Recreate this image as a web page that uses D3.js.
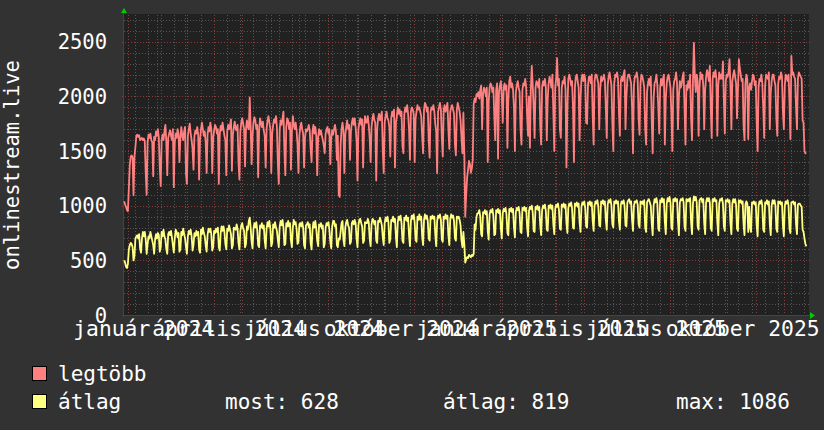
<!DOCTYPE html>
<html><head><meta charset="utf-8">
<script src="https://cdn.jsdelivr.net/npm/d3@7"></script>
<style>html,body{margin:0;padding:0;background:#323232;}svg{display:block}</style>
</head><body>
<svg id="chart" width="824" height="430"></svg>
<script>
// ---------- data (daily values, starting 2023-12-27) ----------
const firstDay = [2023, 11, 27];
const maxSeries = [
1040,1010,990,960,950,1160,1370, 1450,1460,1440,1095,1450,1535,1640, 1650,1630,1645,1600,1610,1620,1600,
1615,1590,1300,1100,1580,1650,1620, 1660,1600,1580,1270,1630,1600,1680, 1640,1700,1620,1350,1180,1600,1650,
1600,1680,1740,1580,1280,1620,1660, 1690,1640,1600,1700,1170,1580,1660, 1620,1700,1660,1400,1620,1720,1640,
1600,1680,1720,1290,1200,1640,1700, 1750,1660,1600,1520,1330,1640,1690, 1660,1720,1650,1240,1610,1700,1760,
1700,1640,1680,1580,1300,1650,1720, 1680,1760,1700,1300,1620,1690,1740,
1720,1660,1700,1200,1650,1730,1690, 1760,1700,1640,1600,1280,1680,1740, 1700,1740,1790,1320,1650,1720,1770,
1700,1690,1740,1400,1240,1680,1760, 1800,1750,1700,1360,1700,1780,1720, 1700,1990,1720,1380,1640,1760,1810,
1780,1700,1740,1260,1680,1800,1760, 1720,1770,1690,1640,1350,1700,1780, 1820,1760,1700,1300,1660,1740,1790,
1760,1820,1720,1390,1200,1700,1780, 1740,1800,1860,1500,1280,1720,1800, 1780,1700,1760,1330,1680,1820,1740,
1700,1760,1690,1560,1300,1640,1720,
1760,1700,1660,1350,1620,1700,1680, 1700,1740,1690,1520,1400,1680,1740, 1660,1720,1640,1280,1620,1700,1650,
1690,1640,1600,1550,1480,1660,1700, 1720,1660,1700,1380,1620,1690,1650, 1700,1740,1680,1420,1640,1100,1080,
1560,1700,1760,1690,1300,1650,1720, 1780,1700,1740,1420,1680,1760,1800, 1740,1800,1720,1600,1230,1700,1760,
1800,1740,1790,1350,1700,1820,1760, 1760,1820,1740,1620,1400,1720,1800, 1840,1780,1760,1230,1700,1800,1840,
1780,1820,1860,1500,1300,1760,1820,
1860,1800,1780,1720,1450,1800,1860, 1820,1880,1350,1760,1820,1900,1840, 1880,1820,1860,1550,1480,1840,1900,
1860,1920,1840,1700,1420,1860,1900, 1880,1840,1400,1800,1860,1920,1880, 1900,1860,1820,1640,1480,1880,1940,
1920,1860,1900,1600,1440,1860,1900, 1880,1920,1860,1750,1680,1300,1860, 1900,1940,1880,1620,1450,1880,1920,
1860,1900,1940,1700,1520,1860,1900, 1920,1880,1840,1560,1460,1880,1940, 1900,1860,1780,1620,1480,1850,1480,
900,1100,1260,1330,1410,1380,1300, 1340,1420,1930,1980,1950,2020,2000,
2040,1980,2060,2100,1700,2020,2080, 2060,2000,2080,1400,1950,2080,2120, 2100,2040,2080,1820,1600,2060,2120,
1430,2040,2100,2140,2000,1760,2080, 2120,2060,2100,1530,1980,2140,2180, 2080,2120,2060,1900,1500,2040,2100,
2140,2080,2040,1700,1560,2060,2120, 2100,2160,2080,1820,1640,2000,1530, 2060,2280,2100,1900,1620,2080,2140,
2120,2080,2160,1740,1560,2080,2140, 2100,2160,2080,1600,1980,2120,2180, 2140,2080,2200,1860,1500,2080,2160,
2350,2100,2160,1700,1620,2080,2140, 2120,2180,2060,1350,1900,2160,2200, 2160,2100,2140,1900,1400,2080,2180,
2200,2140,2080,1600,1980,2160,2200, 2140,2200,2160,1760,1750,2100,2180, 2180,2120,2200,1820,1560,2140,2200,
2200,2160,2120,1700,2060,2180,2140, 2160,2200,2140,1900,1620,2100,2180, 2220,2160,2100,1760,1500,2120,2200,
2180,2220,2160,1860,1640,2140,2180, 2140,2200,2240,1700,2000,2160,2200, 2200,2160,2120,1900,1480,2100,2180,
2180,2220,2160,1800,1650,2120,2200,
2180,2140,2080,1700,1560,2040,2120, 2160,2100,2180,1780,1480,1980,2120, 2140,2200,2100,1900,1660,2080,2160,
2100,2160,2200,1560,1980,2120,2180, 2200,2140,2080,1840,1500,2060,2140, 2160,2220,2120,1700,2000,2140,2080,
2120,2180,2220,1900,1560,2100,2060, 2140,2080,2200,1800,1600,2140,2490, 2180,2040,2200,2140,1640,2080,2220,
2160,2200,2100,1700,2060,2180,2240, 2200,2140,2280,1900,1620,2160,2220, 2180,2240,2160,1640,2100,2220,2160,
2200,2160,2320,1960,1660,2140,2200,
2180,2220,2340,2100,1700,2140,2200, 2240,2180,2120,1800,2060,2340,2260, 2200,2140,2160,1740,1600,2120,2200,
2160,1610,2080,2120,2060,2140,2200, 2180,2100,2140,1760,1500,2080,2160, 2140,2200,2120,1900,1620,2100,2200,
2180,2160,2220,1700,2040,2140,2200, 2200,2140,2100,1800,1640,2120,2180, 2160,2220,2180,1860,1700,2100,2200,
2180,2140,2200,1950,1610,2370,2200, 2220,2180,2160,1900,1700,2160,2220, 2200,2180,2160,1780,1760,1500,1480,
1480
];
const avgSeries = [
500,480,440,430,470,600,640, 660,650,620,500,540,700,720, 730,700,740,610,570,700,760,
720,760,690,560,650,720,700, 760,720,680,640,560,690,740, 700,750,730,580,620,760,720,
780,720,690,600,560,740,760, 730,770,710,640,570,700,780, 760,710,750,580,600,760,730,
790,740,700,620,560,720,770, 740,780,720,590,640,750,720, 770,730,760,600,570,780,740,
800,750,720,640,580,730,790, 760,790,740,590,620,770,750,
790,760,800,620,590,750,810, 770,810,760,650,600,790,770, 820,780,740,610,640,800,790,
780,830,790,660,600,770,820, 840,790,770,620,650,810,780, 860,890,800,670,610,790,840,
800,850,780,640,620,820,800, 840,790,820,680,610,790,850, 810,860,790,630,660,830,800,
850,800,770,690,620,810,860, 820,870,800,640,650,840,810, 860,810,840,680,620,800,870,
830,850,790,650,670,830,840,
810,850,800,640,610,820,830, 850,800,830,660,600,780,850, 800,860,790,680,630,830,810,
840,790,820,620,650,800,840, 820,850,780,670,610,810,860, 860,810,830,640,620,700,690,
760,840,860,690,630,800,850, 870,820,800,650,670,840,860, 830,870,840,700,620,820,870,
880,840,810,660,680,850,840, 840,880,850,700,630,830,880, 870,830,860,680,660,860,850,
890,860,820,710,640,840,890,
860,900,850,660,690,870,860, 900,850,880,720,620,850,900, 870,910,840,680,660,890,870,
910,860,890,730,630,860,910, 880,920,850,690,670,900,870, 920,870,900,720,640,870,920,
880,910,860,700,680,900,880, 910,880,900,740,630,860,910, 890,920,870,690,670,900,880,
920,880,910,730,640,880,920, 890,910,860,700,680,900,890, 900,870,820,680,620,760,650,
480,510,530,520,550,540,530, 550,540,560,830,780,900,930,
930,960,900,740,720,940,930, 960,920,950,770,690,920,960, 940,970,910,730,740,960,940,
970,930,960,790,700,930,970, 950,980,920,750,730,970,950, 980,940,970,800,710,940,980,
960,990,930,760,750,980,960, 990,950,980,810,720,950,990, 970,1000,940,770,760,990,970,
1000,960,990,820,730,960,1000, 980,1010,950,780,770,1000,980, 1010,970,1000,830,740,970,1010,
990,1020,960,790,780,1010,990, 1020,980,1010,840,750,980,1020, 1000,1030,970,800,790,1020,1000,
1030,990,1020,850,760,990,1030, 1010,1040,980,810,800,1030,1010, 1040,1000,1030,860,770,1000,1040,
1020,1050,990,820,810,1040,1020, 1050,1010,1040,870,780,1010,1050, 1030,1060,1000,830,800,1040,1020,
1050,1020,1040,860,780,1010,1040, 1020,1050,1000,820,810,1030,1050, 1060,1020,1040,870,770,1000,1040,
1030,1050,1010,830,800,1040,1020,
1040,1010,1050,800,760,1030,1050, 1060,1030,1000,840,730,1000,1060, 1030,1070,1020,790,770,1050,1030,
1070,1030,1060,850,740,1020,1070, 1040,1080,1030,800,780,1060,1040, 1070,1040,1060,860,730,1030,1060,
1050,1070,1030,810,770,1060,1040, 1060,1040,1070,850,740,1020,1086, 1050,1080,1030,810,780,1050,1060,
1070,1030,1060,840,740,1030,1070, 1040,1070,1030,800,770,1060,1040, 1070,1040,1050,850,730,1020,1060,
1050,1070,1020,810,770,1050,1040,
1060,1030,1050,840,740,1020,1060, 1030,1060,1010,790,770,1050,1030, 1050,1020,1040,830,730,1010,1040,
1020,760,990,800,760,1030,1020, 1040,1010,1030,820,720,1000,1040, 1020,1050,1000,780,760,1030,1020,
1050,1010,1040,830,730,1000,1050, 1020,1050,1000,790,760,1040,1020, 1040,1010,1030,820,720,1000,1040,
1020,1050,1000,790,750,1030,1030, 1040,1010,1030,830,740,1010,1020, 1020,1000,990,780,760,700,650,
628
];
const yTicks = [0, 500, 1000, 1500, 2000, 2500];
const monthNames = ["január","február","március","április","május","június","július","augusztus","szeptember","október","november","december"];
const seriesNames = ["legtöbb", "átlag"];
const seriesColors = ["#ff8080", "#ffff80"];
const statLabels = ["most: 628", "átlag: 819", "max: 1086"];
const yTitle = "onlinestream.live";

// ---------- layout ----------
const W = 824, H = 430;
const L = 124, R = 809, T = 15, B = 315;
const svg = d3.select("#chart");
const FONT = "'DejaVu Sans Mono', monospace";

const t0 = new Date(2023, 11, 27, 8), t1 = new Date(2025, 11, 27, 8);
const x = d3.scaleTime().domain([t0, t1]).range([L, R]);
const y = d3.scaleLinear().domain([0, 2745]).range([B, T]);

const base = new Date(firstDay[0], firstDay[1], firstDay[2], 12);
const dates = maxSeries.map((_, i) => d3.timeDay.offset(base, i));

svg.append("rect").attr("width", W).attr("height", H).attr("fill", "#323232");
svg.append("rect").attr("x", L - 1).attr("y", T - 1).attr("width", R - L + 1).attr("height", B - T + 1).attr("fill", "#212121");

const grid = svg.append("g").attr("shape-rendering", "crispEdges");
// minor horizontal
d3.range(0, 2745, 100).filter(v => v % 500 !== 0).forEach(v => {
  grid.append("line").attr("x1", L).attr("x2", R).attr("y1", Math.round(y(v)) + 0.5).attr("y2", Math.round(y(v)) + 0.5)
    .attr("stroke", "#555").attr("stroke-dasharray", "1,2");
});
// minor vertical: every other Monday
const ref = new Date(2024, 0, 8);
d3.timeMonday.range(t0, t1).filter(d => Math.round((d - ref) / 864e5) % 14 === 0).forEach(d => {
  const xx = Math.round(x(d)) + 0.5;
  grid.append("line").attr("x1", xx).attr("x2", xx).attr("y1", T).attr("y2", B)
    .attr("stroke", "#555").attr("stroke-dasharray", "1,2");
});
// major horizontal
yTicks.filter(v => v > 0).forEach(v => {
  const yy = Math.round(y(v)) + 0.5;
  grid.append("line").attr("x1", L - 2).attr("x2", R + 2).attr("y1", yy).attr("y2", yy)
    .attr("stroke", "#8a3c3c").attr("stroke-dasharray", "1,2");
});
// major vertical: month starts
d3.timeMonth.range(t0, t1).forEach(d => {
  const xx = Math.round(x(d)) + 0.5;
  grid.append("line").attr("x1", xx).attr("x2", xx).attr("y1", T).attr("y2", B + 3)
    .attr("stroke", "#8a3c3c").attr("stroke-dasharray", "1,2");
});
// axes lines
grid.append("line").attr("x1", L - 0.5).attr("x2", L - 0.5).attr("y1", T - 2).attr("y2", B + 2).attr("stroke", "#444");
grid.append("line").attr("x1", L - 2).attr("x2", R + 2).attr("y1", B + 0.5).attr("y2", B + 0.5).attr("stroke", "#444");
// arrows
svg.append("path").attr("d", `M${L - 3},${T - 2} L${L + 3},${T - 2} L${L},${T - 7} Z`).attr("fill", "#00cc00");
svg.append("path").attr("d", `M${R + 1},${B - 3} L${R + 1},${B + 4} L${R + 6},${B + 0.5} Z`).attr("fill", "#00cc00");

// lines
const lineGen = d3.line().x((d, i) => x(dates[i])).y(d => y(d));
svg.append("path").datum(maxSeries).attr("d", lineGen).attr("fill", "none")
  .attr("stroke", seriesColors[0]).attr("stroke-width", 1.8).attr("stroke-linejoin", "round");
svg.append("path").datum(avgSeries).attr("d", lineGen).attr("fill", "none")
  .attr("stroke", seriesColors[1]).attr("stroke-width", 1.8).attr("stroke-linejoin", "round");

// y tick labels
const txt = svg.append("g").attr("fill", "#ffffff").attr("font-family", FONT);
yTicks.forEach(v => {
  txt.append("text").attr("x", 107).attr("y", y(v) + 7.5).attr("text-anchor", "end")
    .attr("font-size", 20.5).text(v);
});
// x labels: quarterly, centered about half a month after the tick
d3.timeMonth.every(3).range(t0, t1).forEach(d => {
  txt.append("text").attr("x", x(d3.timeHour.offset(d, 16.5 * 24))).attr("y", 336).attr("text-anchor", "middle")
    .attr("font-size", 21.3).text(monthNames[d.getMonth()] + " " + d.getFullYear());
});
// y title
txt.append("text").attr("transform", `translate(19,${(T + B) / 2}) rotate(-90)`).attr("text-anchor", "middle")
  .attr("font-size", 20.5).text(yTitle);

// legend
seriesNames.forEach((n, i) => {
  const yy = 366 + i * 28;
  svg.append("rect").attr("x", 32.5).attr("y", yy + 0.5).attr("width", 14).attr("height", 14)
    .attr("fill", seriesColors[i]).attr("stroke", "#000");
  txt.append("text").attr("x", 58).attr("y", yy + 15).attr("font-size", 21).text(n);
});
const statX = [225, 443, 676];
statLabels.forEach((s, i) => {
  txt.append("text").attr("x", statX[i]).attr("y", 409).attr("font-size", 21).text(s);
});
</script>
</body></html>
